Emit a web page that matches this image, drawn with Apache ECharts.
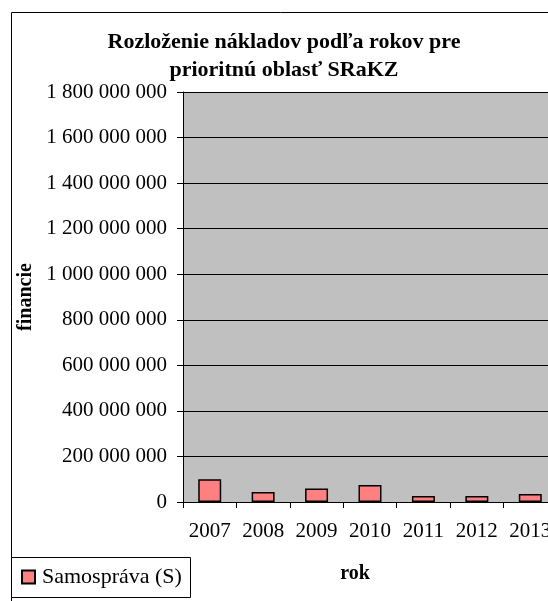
<!DOCTYPE html>
<html>
<head>
<meta charset="utf-8">
<script src="https://cdn.jsdelivr.net/npm/echarts@6/dist/echarts.min.js"></script>
<style>html,body{margin:0;padding:0;background:#fff;}#c{width:548px;height:601px;}</style>
</head>
<body>
<div id="c"></div>
<script>
const categories = ['2007', '2008', '2009', '2010', '2011', '2012', '2013'];
const seriesName = 'Samospráva (S)';
const values = [100000000, 44000000, 59000000, 75000000, 26000000, 26000000, 35000000];
const titleText = 'Rozloženie nákladov podľa rokov pre\nprioritnú oblasť SRaKZ';
const yAxisName = 'financie';
const xAxisName = 'rok';

const font = 'Liberation Serif';
const chart = echarts.init(document.getElementById('c'));
function fmt(v) {
  return String(v).replace(/\B(?=(\d{3})+(?!\d))/g, ' ');
}
chart.setOption({
  animation: false,
  backgroundColor: '#fff',
  title: {
    text: titleText,
    left: 279, top: 23, textAlign: 'center',
    textStyle: { fontFamily: font, fontSize: 22, fontWeight: 'bold', color: '#000', lineHeight: 28 }
  },
  graphic: [{
    type: 'rect', z: -1,
    shape: { x: 11.5, y: 12.5, width: 600, height: 600 },
    style: { fill: 'none', stroke: '#000', lineWidth: 1 }
  }, {
    type: 'rect', z: 0,
    shape: { x: 11.5, y: 557.5, width: 179, height: 40 },
    style: { fill: '#fff', stroke: '#000', lineWidth: 1 }
  }],
  legend: {
    left: 21, top: 566, padding: 0,
    data: [seriesName],
    icon: 'rect', itemWidth: 13, itemHeight: 13, z: 5,
    textStyle: { fontFamily: font, fontSize: 22, color: '#000', padding: [0, 0, 0, 2] }
  },
  grid: {
    left: 183, top: 92, bottom: 99, width: 374,
    outerBoundsMode: 'none', containLabel: false,
    show: true, backgroundColor: '#c0c0c0', borderWidth: 0
  },
  xAxis: {
    type: 'category', data: categories,
    name: xAxisName, nameLocation: 'middle', nameGap: 62,
    nameTextStyle: { fontFamily: font, fontSize: 20, fontWeight: 'bold', color: '#000', padding: [0, 0, 0, -30] },
    axisLine: { show: true, lineStyle: { color: '#000', width: 1 } },
    axisTick: { show: true, length: 6, interval: 0, lineStyle: { color: '#000' } },
    axisLabel: { fontFamily: font, fontSize: 21, color: '#000', margin: 19, interval: 0, hideOverlap: false }
  },
  yAxis: {
    type: 'value', min: 0, max: 1800000000, interval: 200000000,
    name: yAxisName, nameLocation: 'middle', nameGap: 147, nameRotate: 90,
    nameTextStyle: { fontFamily: font, fontSize: 20, fontWeight: 'bold', color: '#000' },
    axisLine: { show: true, lineStyle: { color: '#000', width: 1 } },
    axisTick: { show: true, length: 6, lineStyle: { color: '#000' } },
    axisLabel: { fontFamily: font, fontSize: 21, color: '#000', margin: 16, formatter: fmt },
    splitLine: { show: true, lineStyle: { color: '#000', width: 1 } }
  },
  series: [{
    name: seriesName, type: 'bar', data: values,
    barWidth: '43%',
    itemStyle: { color: '#ff8080', borderColor: '#000', borderWidth: 1.5 }
  }]
});
</script>
</body>
</html>
